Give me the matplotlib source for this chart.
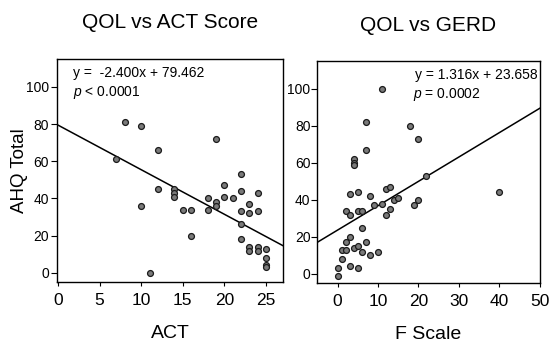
import numpy as np
import matplotlib
matplotlib.use('Agg')
import matplotlib.pyplot as plt

plt.rcParams['font.family'] = ['Liberation Sans', 'DejaVu Sans']
plt.rcParams['mathtext.fontset'] = 'custom'
plt.rcParams['mathtext.it'] = 'Liberation Sans:italic'
plt.rcParams['mathtext.rm'] = 'Liberation Sans'

# QOL vs ACT Score
act = [8, 10, 7, 12, 19, 12, 10, 11, 14, 14, 14, 15, 16, 16, 18, 18, 19, 19,
       20, 20, 21, 22, 22, 22, 22, 22, 23, 23, 24, 24, 23, 23, 24, 24, 25, 25, 25, 25]
ahq_act = [81, 79, 61, 66, 72, 45, 36, 0, 45, 43, 41, 34, 34, 20, 40, 34, 38, 36,
           47, 41, 40, 53, 44, 33, 26, 18, 37, 32, 43, 33, 14, 12, 14, 12, 13, 8, 4, 3]
act_slope, act_icpt = -2.400, 79.462

# QOL vs GERD
fscale = [11, 7, 18, 20, 7, 4, 4, 4, 22, 3, 5, 8, 12, 13, 14, 15, 20, 19, 9, 11,
          2, 3, 5, 6, 12, 13, 6, 3, 2, 7, 1, 2, 4, 5, 6, 8, 10, 1, 0, 0, 3, 5, 40]
ahq_gerd = [100, 82, 80, 73, 67, 62, 60, 59, 53, 43, 44, 42, 46, 47, 40, 41, 40, 37, 37, 38,
            34, 32, 34, 34, 32, 35, 25, 20, 17, 17, 13, 13, 14, 15, 12, 10, 12, 8, 3, -1, 4, 3, 44]
gerd_slope, gerd_icpt = 1.316, 23.658

fig = plt.figure(figsize=(5.49, 3.47), dpi=100)
ax1 = fig.add_axes([0.104, 0.187, 0.411, 0.643])
ax2 = fig.add_axes([0.578, 0.184, 0.405, 0.640])

def panel(ax, x, y, a, b, xlim, xticks, title, xlabel):
    ax.scatter(x, y, s=18, facecolor='#7a7a7a', edgecolor='#1a1a1a', linewidth=0.9, zorder=3)
    xx = np.array(xlim)
    ax.plot(xx, a * xx + b, color='black', lw=1.1)
    ax.set_xlim(xlim)
    ax.set_ylim(-5, 115)
    ax.set_xticks(xticks)
    ax.set_yticks([0, 20, 40, 60, 80, 100])
    ax.tick_params(axis='x', labelsize=12.5, length=3, pad=5, width=0.8)
    ax.tick_params(axis='y', labelsize=10, length=4, pad=2, width=0.8)
    for s in ax.spines.values():
        s.set_linewidth(1.0)
    ax.set_title(title, fontsize=15, pad=22)
    ax.set_xlabel(xlabel, fontsize=14, labelpad=12)

panel(ax1, act, ahq_act, act_slope, act_icpt, (-0.1, 27), [0, 5, 10, 15, 20, 25],
      'QOL vs ACT Score', 'ACT')
panel(ax2, fscale, ahq_gerd, gerd_slope, gerd_icpt, (-5, 50), [0, 10, 20, 30, 40, 50],
      'QOL vs GERD', 'F Scale')
ax2.tick_params(axis='y', pad=1)

ax1.set_ylabel('AHQ Total', fontsize=13.5)
ax1.yaxis.set_label_coords(-0.13, 0.5)

ax1.text(0.07, 0.97, 'y =  -2.400x + 79.462', transform=ax1.transAxes,
         fontsize=10, va='top', ha='left')
ax1.text(0.07, 0.89, r'$p$' + ' < 0.0001', transform=ax1.transAxes,
         fontsize=10, va='top', ha='left')
ax2.text(0.99, 0.97, 'y = 1.316x + 23.658', transform=ax2.transAxes,
         fontsize=10, va='top', ha='right')
ax2.text(0.43, 0.89, r'$p$' + ' = 0.0002', transform=ax2.transAxes,
         fontsize=10, va='top', ha='left')

fig.savefig('out.png', dpi=100)
